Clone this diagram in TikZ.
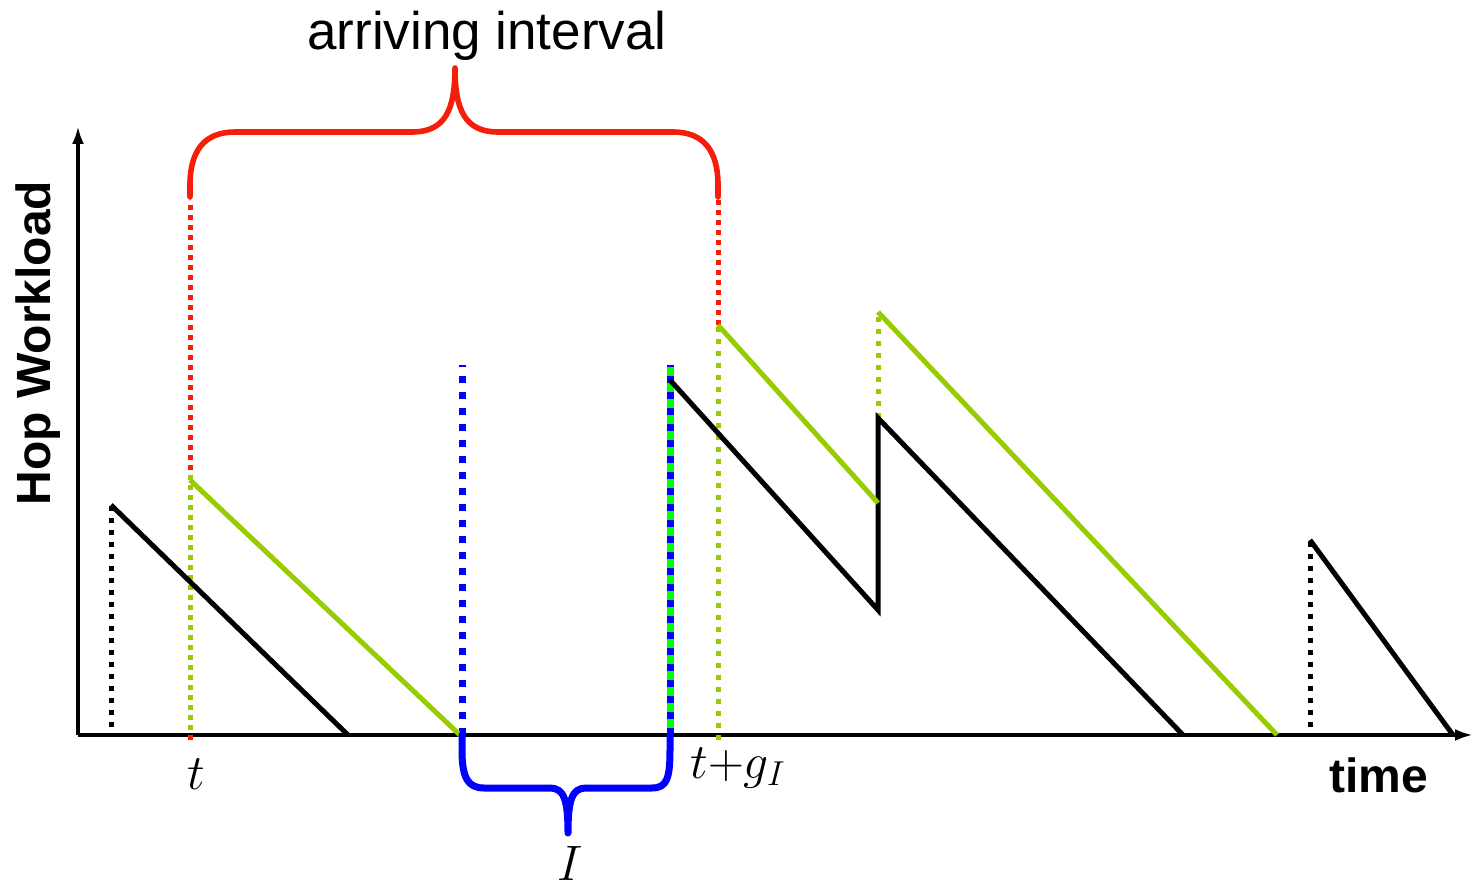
\documentclass[tikz,border=0pt]{standalone}
\usepackage{fontspec}
\newfontfamily\lblfont{Liberation Sans}
\usetikzlibrary{arrows.meta}
\definecolor{hopgreen}{RGB}{153,204,0}
\definecolor{brightgreen}{RGB}{0,255,0}
\definecolor{bracered}{RGB}{245,30,10}
\definecolor{braceblue}{RGB}{0,0,255}

\begin{document}
\begin{tikzpicture}[x=0.5pt,y=-0.5pt, axis/.style={line width=2pt,-{Latex[length=9pt,width=6pt]}}, saw/.style={line width=2.5pt,black,line join=miter}, lsaw/.style={line width=2.5pt,hopgreen}, kdots/.style={line width=2.5pt,dash pattern=on 2.5pt off 3.5pt}, rdots/.style={line width=2.5pt,bracered,dash pattern=on 2.5pt off 2.5pt}, gdots/.style={line width=2.5pt,hopgreen,dash pattern=on 2.5pt off 3.5pt}, bdots/.style={line width=3.5pt,braceblue,dash pattern=on 3.5pt off 4.5pt}, brace/.style={line width=2.8pt,line cap=round,line join=round}, mlbl/.style={font=\fontsize{24}{28}\selectfont}, slbl/.style={font=\lblfont\bfseries\fontsize{24}{28}\selectfont}]
  \useasboundingbox (0,0) rectangle (1473,887);
  % axes
  \coordinate (o) at (78,735);
  \coordinate (ytop) at (78,126);
  \coordinate (xend) at (1473,735);
  \draw[axis](o)--(ytop);
  \draw[axis](o)--(xend);
  % arrival instants
  \coordinate (t) at (190,735);
  \coordinate (tg) at (718,735);
  \coordinate (ia) at (462,735);
  \coordinate (ib) at (670,735);
  \draw[kdots](111,727)--(111,505);
  \draw[kdots](1310,727)--(1310,540);
  \draw[rdots](190,740)--(190,200);
  \draw[rdots](718,325)--(718,200);
  \draw[line width=2.5pt,hopgreen,dash pattern=on 2.5pt off 2.5pt,dash phase=2.5pt](190,735)--(190,470);
  \draw[gdots](718,740)--(718,325);
  \draw[gdots](878,418)--(878,312);
  \draw[bdots](ia)--(462,365);
  \draw[line width=3.5pt,brightgreen](ib)--(670,365);
  \draw[bdots](ib)--(670,365);
  % workload
  \draw[saw](111,505)--(348,735);
  \draw[lsaw](190,480)--(460,735);
  \draw[saw](670,380)--(878,610)--(878,418)--(1183,735);
  \draw[lsaw](718,325)--(878,503);
  \draw[lsaw](878,312)--(1277,735);
  \draw[saw](1310,540)--(1453,735);
  % braces
  \draw[brace,bracered](190,197)--(190,185) .. controls (190,150) and (205,132) .. (235,132)--(412,132) .. controls (445,132) and (455,110) .. (455,68) .. controls (455,110) and (465,132) .. (498,132)--(673,132) .. controls (703,132) and (718,150) .. (718,185)--(718,197);
  \draw[brace,braceblue,line width=3.5pt](ia)--(462,750) .. controls (462,778) and (468,788) .. (484,788)--(550,788) .. controls (564,788) and (568,800) .. (568,833) .. controls (568,800) and (572,788) .. (586,788)--(652,788) .. controls (667,788) and (670,778) .. (670,750)--(ib);
  % labels
  \node[anchor=base,font=\lblfont\fontsize{26.5}{30}\selectfont](arr) at (487,50){arriving interval};
  \node[anchor=base,rotate=90,slbl](ylbl) at (50,343){Hop Workload};
  \node[anchor=base,slbl](xlbl) at (1379,792){time};
  \node[anchor=base,mlbl](tlbl) at (196,789){$t$};
  \node[anchor=base west,mlbl,inner sep=0pt](tglbl) at (690,778){$t{+}g_I$};
  \node[anchor=base,mlbl,inner sep=1pt](ilbl) at (570,880){$I$};
\end{tikzpicture}
\end{document}
